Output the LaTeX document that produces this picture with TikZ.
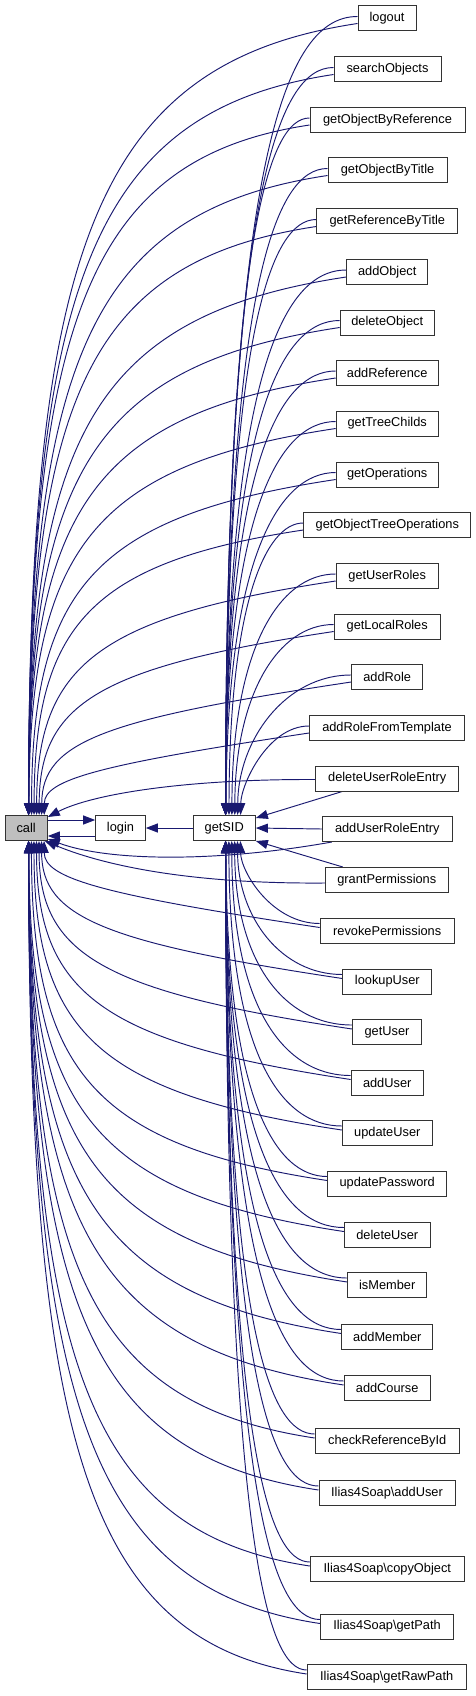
\documentclass[tikz,border=0pt]{standalone}
\usepackage{fontspec}
\setmainfont{Liberation Sans}
\usetikzlibrary{arrows.meta,calc}
\definecolor{edgecol}{HTML}{191970}
\definecolor{callfill}{HTML}{BFBFBF}
\pgfdeclarelayer{bg}
\pgfsetlayers{bg,main}
\tikzset{
  box/.style={draw=black!80, line width=1pt, fill=white, minimum height=25pt,
    inner sep=0pt, font=\fontsize{12.8}{14}\selectfont, text=black},
  edge/.style={draw=edgecol, line width=0.95pt, -{Triangle[length=12pt,width=9pt]}},
}
\begin{document}
\begin{tikzpicture}[x=1pt,y=-1pt]
\useasboundingbox (0,0) rectangle (476,1696);
\node[box, fill=callfill, minimum width=42.3pt] (call) at (26.2,828) {call};
\node[box, minimum width=49.6pt] (login) at (120.5,828) {login};
\node[box, minimum width=62.3pt] (getSID) at (224.2,828) {getSID};
\def\nodelist{logout/logout/387/18.5/58/0,
searchObjects/searchObjects/387.5/69.5/107/0,
getObjectByReference/getObjectByReference/387.5/120/155/0,
getObjectByTitle/getObjectByTitle/387.5/170.5/119/0,
getReferenceByTitle/getReferenceByTitle/387.3/221.5/141/0,
addObject/addObject/387.2/272/81/0,
deleteObject/deleteObject/387.2/322.5/94/0,
addReference/addReference/387.2/373/102/0,
getTreeChilds/getTreeChilds/387.2/423.5/102/0,
getOperations/getOperations/387.2/474.5/102/0,
getObjectTreeOperations/getObjectTreeOperations/387.3/525/167/0,
getUserRoles/getUserRoles/387.2/576/102/0,
getLocalRoles/getLocalRoles/387.2/626.5/106/0,
addRole/addRole/387.2/677/71/0,
addRoleFromTemplate/addRoleFromTemplate/387/728/155/0,
deleteUserRoleEntry/deleteUserRoleEntry/387.2/778.5/143/2,
addUserRoleEntry/addUserRoleEntry/387.3/829/130/2,
grantPermissions/grantPermissions/386.8/880/123/2,
revokePermissions/revokePermissions/387.2/930.5/134/1,
lookupUser/lookupUser/387.3/981.5/89/1,
getUser/getUser/387/1032/69/1,
addUser/addUser/387.2/1082.5/72/1,
updateUser/updateUser/387.3/1133/90/1,
updatePassword/updatePassword/387.2/1183.5/119/1,
deleteUser/deleteUser/387.3/1234.5/86/1,
isMember/isMember/387.2/1285/79/1,
addMember/addMember/387.3/1336.5/91/1,
addCourse/addCourse/387.2/1388/86/1,
checkReferenceById/checkReferenceById/387.2/1441/144/1,
iaddUser/Ilias4Soap\textbackslash addUser/387/1493/136/1,
icopyObject/Ilias4Soap\textbackslash copyObject/387.3/1569/154/1,
igetPath/Ilias4Soap\textbackslash getPath/387/1626.5/133/1,
igetRawPath/Ilias4Soap\textbackslash getRawPath/386.7/1677/159/1}
\foreach \nm/\txt/\cx/\cy/\w/\tp in \nodelist {
  \node[box, minimum width=\w pt] (\nm) at (\cx,\cy) {\txt};
}
\begin{pgfonlayer}{bg}
\foreach \nm/\txt/\cx/\cy/\w/\tp in \nodelist {
  \pgfmathsetmacro\myxl{\cx-\w/2}
  \ifnum\tp=0
    \pgfmathsetmacro\mydd{815-\cy}
    \pgfmathsetmacro\mygx{226+20*max(0,1-\mydd/350)}
    \pgfmathsetmacro\myla{0.6*(\myxl-240)}
    \pgfmathsetmacro\mylb{max(0.35*\mydd,0.9*\mydd-50)}
    \pgfmathsetmacro\myya{\cy-2}
    \pgfmathsetmacro\myax{\myxl-\myla}
    \pgfmathsetmacro\myby{815-\mylb}
    \pgfmathsetmacro\mygxo{\mygx-193}
    \draw[edge] ($(\nm.west)+(0,-2)$) .. controls (\myax,\myya) and (\mygx,\myby) .. ($(getSID.north west)+(\mygxo,0)$);
    \pgfmathsetmacro\myex{29+20*max(0,1-\mydd/400)}
    \pgfmathsetmacro\mylc{0.8*(\myxl-\myex)}
    \pgfmathsetmacro\myrise{min(0.15*\mylc,0.5*\mydd)}
    \pgfmathsetmacro\myld{max(0.3*\mydd,0.75*\mydd-30)}
    \pgfmathsetmacro\mycxa{\myxl-\mylc}
    \pgfmathsetmacro\mycya{\cy+5+\myrise}
    \pgfmathsetmacro\mycyb{815-\myld}
    \pgfmathsetmacro\myexo{\myex-5}
    \draw[edge] ($(\nm.west)+(0,5)$) .. controls (\mycxa,\mycya) and (\myex,\mycyb) .. ($(call.north west)+(\myexo,0)$);
  \fi
  \ifnum\tp=1
    \pgfmathsetmacro\mydd{\cy-841}
    \pgfmathsetmacro\mygx{226+20*max(0,1-\mydd/350)}
    \pgfmathsetmacro\myla{0.6*(\myxl-240)}
    \pgfmathsetmacro\mylb{max(0.35*\mydd,0.9*\mydd-50)}
    \pgfmathsetmacro\myya{\cy-7}
    \pgfmathsetmacro\myax{\myxl-\myla}
    \pgfmathsetmacro\myby{841+\mylb}
    \pgfmathsetmacro\mygxo{\mygx-193}
    \draw[edge] ($(\nm.west)+(0,-7)$) .. controls (\myax,\myya) and (\mygx,\myby) .. ($(getSID.south west)+(\mygxo,0)$);
    \pgfmathsetmacro\myex{29+20*max(0,1-\mydd/400)}
    \pgfmathsetmacro\mylc{0.8*(\myxl-\myex)}
    \pgfmathsetmacro\myrise{min(0.15*\mylc,0.5*\mydd)}
    \pgfmathsetmacro\myld{max(0.3*\mydd,0.75*\mydd-30)}
    \pgfmathsetmacro\mycxa{\myxl-\mylc}
    \pgfmathsetmacro\mycya{\cy-3-\myrise}
    \pgfmathsetmacro\mycyb{841+\myld}
    \pgfmathsetmacro\myexo{\myex-5}
    \draw[edge] ($(\nm.west)+(0,-3)$) .. controls (\mycxa,\mycya) and (\myex,\mycyb) .. ($(call.south west)+(\myexo,0)$);
  \fi
}
% special edges near the getSID level
\draw[edge] ($(deleteUserRoleEntry.south west)+(27,0)$) -- ($(getSID.north east)+(0,3)$);
\draw[edge] ($(deleteUserRoleEntry.west)+(0,1)$) .. controls (180,779) and (90,795) .. ($(call.north east)+(0,2)$);
\draw[edge] (addUserRoleEntry.west) -- (getSID.east);
\draw[edge] ($(addUserRoleEntry.south west)+(10,0)$) .. controls (220,862) and (110,862) .. ($(call.south east)+(0,-2)$);
\draw[edge] ($(grantPermissions.north west)+(18,0)$) -- (getSID.south east);
\draw[edge] ($(grantPermissions.west)+(0,3)$) .. controls (200,884) and (110,868) .. ($(call.south east)+(-3,0)$);
% login edges
\draw[edge] ($(call.east)+(0,-8)$) -- ($(login.west)+(0,-8)$);
\draw[edge] ($(login.west)+(0,8)$) -- ($(call.east)+(0,8)$);
\draw[edge] (getSID.west) -- (login.east);
\end{pgfonlayer}
\end{tikzpicture}
\end{document}
